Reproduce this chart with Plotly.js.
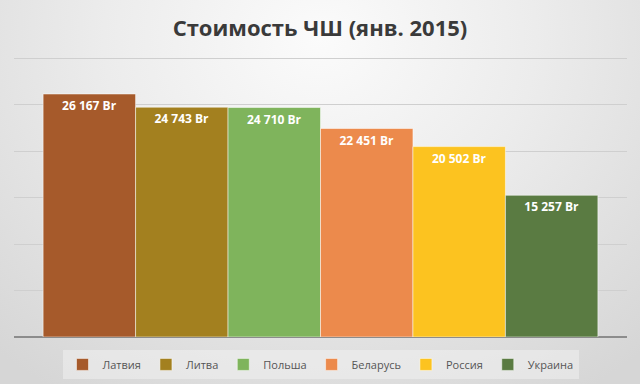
<!DOCTYPE html>
<html><head><meta charset="utf-8">
<script src="https://cdn.plot.ly/plotly-3.0.1.min.js"></script>
<style>
html,body{margin:0;padding:0;width:640px;height:384px;overflow:hidden;}
body{background:radial-gradient(ellipse 75% 110% at 50% 10%, #fbfbfb 0%, #ececec 45%, #d6d6d6 100%);}
#chart{width:640px;height:384px;}
</style></head>
<body><div id="chart"></div>
<script>
const countries = ["Латвия","Литва","Польша","Беларусь","Россия","Украина"];
const costs = [26167, 24743, 24710, 22451, 20502, 15257];
const colors = ["#a65a2b","#a3801f","#7fb45c","#ec8a4c","#fcc320","#5a7b42"];
const category = [""];

const traces = countries.map((c,i)=>({
  type:"bar", name:c, x:category, y:[costs[i]],
  marker:{color:colors[i], line:{color:"rgba(255,255,255,0.5)", width:1}},
  texttemplate:"%{y:,.0f} Br", textposition:"inside", insidetextanchor:"end",
  textfont:{family:"Open Sans, sans-serif", size:12, color:"#ffffff", weight:"bold"},
  hoverinfo:"skip"
}));

const layout = {
  width:640, height:384,
  paper_bgcolor:"rgba(0,0,0,0)", plot_bgcolor:"rgba(0,0,0,0)",
  separators:", ",
  margin:{l:14, r:13, t:57, b:47, autoexpand:false},
  title:{text:"<b>Стоимость ЧШ (янв. 2015)</b>", x:0.5, xanchor:"center", y:0.927, yanchor:"middle",
    font:{family:"Open Sans, sans-serif", size:22, color:"#3a3a3a"}},
  barmode:"group", bargap:0.095, bargroupgap:0,
  xaxis:{showticklabels:false, showgrid:false, zeroline:false, showline:false, fixedrange:true},
  yaxis:{range:[0,30150], tickvals:[5000,10000,15000,20000,25000,30000], showticklabels:false, gridcolor:"#cfcfcf", gridwidth:1,
    zeroline:true, zerolinecolor:"#8c8c8c", zerolinewidth:2, showline:false},
  showlegend:true,
  legend:{orientation:"h", x:0.5, xanchor:"center", yref:"container", y:0.051, yanchor:"middle",
    bgcolor:"rgba(240,240,240,0.55)", borderwidth:0,
    font:{family:"Open Sans, sans-serif", size:11, color:"#555555"},
    itemwidth:30, traceorder:"normal"}
};
Plotly.newPlot("chart", traces, layout, {displayModeBar:false, staticPlot:true});
</script></body></html>
